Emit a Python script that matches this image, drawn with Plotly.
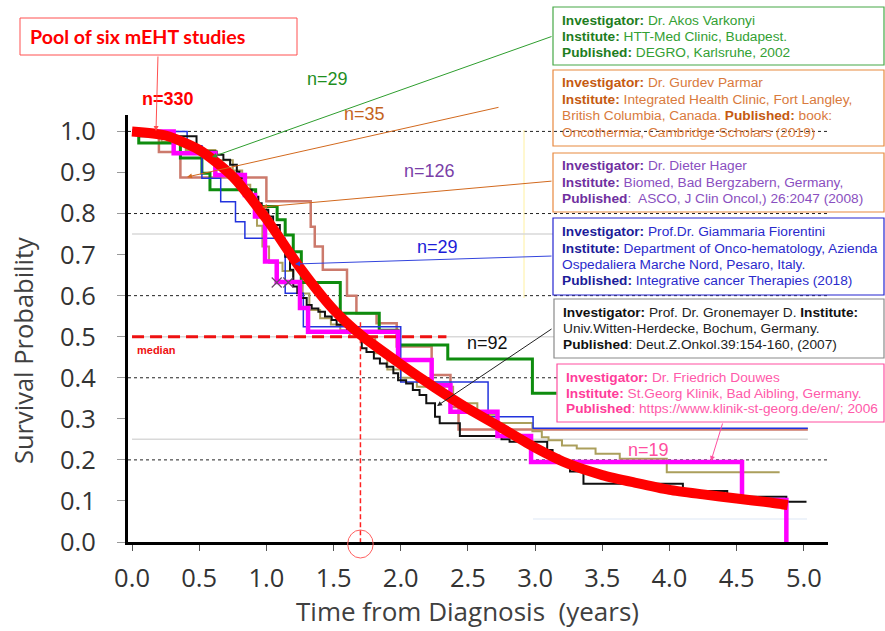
import plotly.graph_objects as go

# ---------------- data ----------------
POOL_X = [0, 0.25, 0.5, 0.75, 1.0, 1.25, 1.5, 1.7, 2.0, 2.25, 2.5, 2.75, 3.0, 3.25, 3.5, 3.75, 4.0, 4.25, 4.5, 4.75, 4.88]
POOL_Y = [1.0, 0.99, 0.955, 0.89, 0.787, 0.668, 0.566, 0.505, 0.433, 0.377, 0.325, 0.278, 0.23, 0.19, 0.163, 0.144, 0.127, 0.116, 0.106, 0.096, 0.09]

VARKONYI_X = [0, 0.05, 0.36, 0.52, 0.58, 0.92, 1.08, 1.14, 1.20, 1.26, 1.55, 1.84, 1.98, 2.35, 2.98, 3.16]
VARKONYI_Y = [1.0, 0.972, 0.935, 0.898, 0.858, 0.817, 0.785, 0.748, 0.707, 0.632, 0.557, 0.516, 0.48, 0.446, 0.362, 0.362]

PARMAR_X = [0, 0.20, 0.36, 1.0, 1.33, 1.36, 1.42, 1.60, 1.67, 1.82, 1.97, 2.23, 2.37, 2.43, 5.03]
PARMAR_Y = [1.0, 0.95, 0.888, 0.83, 0.768, 0.72, 0.663, 0.60, 0.557, 0.533, 0.476, 0.407, 0.329, 0.274, 0.274]

HAGER_X = [0, 0.22, 0.40, 0.62, 0.75, 0.82, 0.88, 0.93, 0.97, 1.02, 1.12, 1.20, 1.27, 1.32, 1.40, 1.48, 1.55, 1.62, 1.81, 1.90, 2.0, 2.12,
           2.39, 2.57, 2.72, 2.98, 3.05, 3.10, 3.20, 3.31, 3.45, 3.63, 3.98, 4.82]
HAGER_Y = [1.0, 0.975, 0.955, 0.93, 0.905, 0.87, 0.83, 0.77, 0.72, 0.68, 0.66, 0.63, 0.605, 0.565, 0.545, 0.53, 0.516, 0.50, 0.46, 0.42, 0.40, 0.378,
           0.338, 0.31, 0.29, 0.27, 0.255, 0.248, 0.235, 0.228, 0.215, 0.203, 0.17, 0.17]

FIORENTINI_X = [0, 0.41, 0.52, 0.66, 0.77, 0.84, 1.14, 1.275, 2.0, 2.65, 2.985, 5.03]
FIORENTINI_Y = [1.0, 0.965, 0.886, 0.829, 0.780, 0.740, 0.606, 0.524, 0.39, 0.305, 0.277, 0.277]

GRONEMAYER_X = [0, 0.06, 0.48, 0.63, 0.68, 0.73, 0.78, 0.80, 0.84, 0.89, 0.94, 0.965, 1.014, 1.05, 1.10, 1.14, 1.176, 1.20, 1.23,
                1.26, 1.30, 1.337, 1.387, 1.436, 1.486, 1.523, 1.60, 1.67, 1.71, 1.745, 1.80, 1.845, 1.895, 1.945, 1.98, 2.04,
                2.09, 2.14, 2.19, 2.255, 2.29, 2.44, 2.75, 2.81, 3.09, 3.13, 3.18, 3.26, 3.36, 4.10, 4.43, 4.87, 5.02]
GRONEMAYER_Y = [1.0, 0.988, 0.951, 0.943, 0.931, 0.919, 0.902, 0.886, 0.858, 0.841, 0.825, 0.809, 0.793, 0.772, 0.728, 0.695, 0.663, 0.622, 0.606,
                0.594, 0.577, 0.569, 0.561, 0.549, 0.541, 0.529, 0.516, 0.504, 0.472, 0.463, 0.447, 0.435, 0.427, 0.411, 0.394, 0.386,
                0.370, 0.358, 0.338, 0.305, 0.289, 0.258, 0.25, 0.244, 0.224, 0.21, 0.19, 0.172, 0.142, 0.124, 0.11, 0.098, 0.098]

DOUWES_X = [0, 0.31, 0.62, 0.84, 0.915, 0.99, 1.077, 1.25, 1.31, 1.98, 2.23, 2.37, 2.72, 2.97, 4.54, 4.87]
DOUWES_Y = [1.0, 0.947, 0.894, 0.845, 0.793, 0.683, 0.633, 0.57, 0.512, 0.443, 0.382, 0.317, 0.258, 0.195, 0.102, 0.0]

CENSOR_X = [1.077, 1.163]
CENSOR_Y = [0.632, 0.632]

MEDIAN_SURV = 0.5
MEDIAN_TIME = 1.70
MEDIAN_LINE_END = 2.34
MEDIAN_DROP_TOP = 0.535

GRID_Y = [0.2, 0.4, 0.6, 0.8, 1.0]
FAINT_Y = [0.25, 0.5, 0.75]
FAINT_END = 5.03

X_TICKS = [0.0, 0.5, 1.0, 1.5, 2.0, 2.5, 3.0, 3.5, 4.0, 4.5, 5.0]
X_TICK_TEXT = ["0.0", "0.5", "1.0", "1.5", "2.0", "2.5", "3.0", "3.5", "4.0", "4.5", "5.0"]
Y_TICKS = [0.0, 0.1, 0.2, 0.3, 0.4, 0.5, 0.6, 0.7, 0.8, 0.9, 1.0]
Y_TICK_TEXT = ["0.0", "0.1", "0.2", "0.3", "0.4", "0.5", "0.6", "0.7", "0.8", "0.9", "1.0"]

N_LABELS = ["n=330", "n=29", "n=35", "n=126", "n=29", "n=92", "n=19"]

# ---------------- layout helpers ----------------
W, H = 885, 631
PL, PR, PT, PB = 128, 828, 115, 542


def pxx(px):
    return (px - PL) / (PR - PL)


def pyy(py):
    return (PB - py) / (PB - PT)


SANS = "Liberation Sans, Arial, sans-serif"
TICKFONT = "Open Sans, Noto Sans, sans-serif"

fig = go.Figure()

series = [
    (PARMAR_X, PARMAR_Y, "#cc7a6c", 2.5),
    (HAGER_X, HAGER_Y, "#ab9f5c", 2),
    (VARKONYI_X, VARKONYI_Y, "#0e8c0e", 3),
    (FIORENTINI_X, FIORENTINI_Y, "#2233dd", 1.5),
    (GRONEMAYER_X, GRONEMAYER_Y, "#111111", 2),
    (DOUWES_X, DOUWES_Y, "#ff00ff", 4.5),
]
for xs, ys, col, w in series:
    fig.add_trace(go.Scatter(x=xs, y=ys, mode="lines", line=dict(shape="hv", color=col, width=w),
                             hoverinfo="skip", showlegend=False))

fig.add_trace(go.Scatter(x=CENSOR_X, y=CENSOR_Y, mode="markers",
                         marker=dict(symbol="x-thin", size=10, line=dict(width=1.2, color="#6a4a6a")),
                         hoverinfo="skip", showlegend=False))

# median lines
fig.add_trace(go.Scatter(x=[0, MEDIAN_LINE_END], y=[MEDIAN_SURV, MEDIAN_SURV], mode="lines",
                         line=dict(color="#ee1111", width=3, dash="12px,6px"), hoverinfo="skip", showlegend=False))
fig.add_trace(go.Scatter(x=[MEDIAN_TIME, MEDIAN_TIME], y=[MEDIAN_DROP_TOP, 0], mode="lines",
                         line=dict(color="#ff2020", width=1.5, dash="5px,3px"), hoverinfo="skip", showlegend=False))

# pooled curve
fig.add_trace(go.Scatter(x=POOL_X, y=POOL_Y, mode="lines", line=dict(shape="spline", smoothing=0.7, color="#ff0000", width=10),
                         hoverinfo="skip", showlegend=False))

shapes = []
# Parmar box sits below the grid line (grid line crosses it in the reference)
shapes.append(dict(type="rect", xref="paper", yref="paper", x0=pxx(553), x1=pxx(884), y0=pyy(146), y1=pyy(70),
                   line=dict(color="#e8893f", width=1.2), fillcolor="white", layer="below"))
for gy in FAINT_Y:
    shapes.append(dict(type="line", xref="x", yref="y", x0=0, x1=FAINT_END, y0=gy, y1=gy,
                       line=dict(color="#d9d9d9", width=1.5), layer="below"))
for gy in GRID_Y:
    shapes.append(dict(type="line", xref="paper", yref="y", x0=0, x1=1, y0=gy, y1=gy,
                       line=dict(color="#222222", width=1, dash="3px,3px"), layer="below"))
shapes.append(dict(type="line", xref="paper", yref="paper", x0=pxx(524), x1=pxx(524), y0=pyy(130), y1=pyy(298),
                   line=dict(color="#fff0a0", width=1), layer="below"))
shapes.append(dict(type="line", xref="paper", yref="paper", x0=pxx(533), x1=pxx(807), y0=pyy(519), y1=pyy(519),
                   line=dict(color="#e9eff9", width=1.5), layer="below"))

# info boxes (above the curves)
boxes = [
    (553, 7, 884, 65, "#47a847"),
    (553, 153, 884, 212, "#e8893f"),
    (553, 218, 884, 295, "#2525d0"),
    (554, 299, 884, 358, "#8a8a8a"),
    (557, 364, 884, 422, "#ff4fa0"),
]
for x0, y0, x1, y1, c in boxes:
    shapes.append(dict(type="rect", xref="paper", yref="paper", x0=pxx(x0), x1=pxx(x1), y0=pyy(y1), y1=pyy(y0),
                       line=dict(color=c, width=1.2), fillcolor="white", layer="above"))
# title box
shapes.append(dict(type="rect", xref="paper", yref="paper", x0=pxx(20), x1=pxx(297), y0=pyy(55), y1=pyy(18),
                   line=dict(color="#ff5050", width=1), fillcolor="white", layer="above"))
# circle at median time
shapes.append(dict(type="circle", xref="x", yref="paper", x0=MEDIAN_TIME - 0.095, x1=MEDIAN_TIME + 0.095,
                   y0=pyy(558), y1=pyy(530), line=dict(color="#ff6060", width=1), layer="above"))

annotations = []


def lab(text, c):
    return "<span style='color:%s'><b>%s</b></span>" % (c, text)


FS = 13.7
box_text = [
    (562, [25, 41, 57], "#33a033", "#1e7d1e", [
        lab("Investigator:", "#1e7d1e") + " Dr. Akos Varkonyi",
        lab("Institute:", "#1e7d1e") + " HTT-Med Clinic, Budapest.",
        lab("Published:", "#1e7d1e") + " DEGRO, Karlsruhe, 2002"]),
    (562, [87, 104, 120, 137], "#d97a3c", "#c55a11", [
        lab("Investigator:", "#c55a11") + " Dr. Gurdev Parmar",
        lab("Institute:", "#c55a11") + " Integrated Health Clinic, Fort Langley,",
        "British Columbia, Canada. " + lab("Published:", "#c55a11") + " book:",
        "Oncothermia, Cambridge Scholars (2019)"]),
    (562, [170, 187, 203], "#8a4fc0", "#7030a0", [
        lab("Investigator:", "#7030a0") + " Dr. Dieter Hager",
        lab("Institute:", "#7030a0") + " Biomed, Bad Bergzabern, Germany,",
        lab("Published", "#7030a0") + ":\u00a0 ASCO, J Clin Oncol,) 26:2047 (2008)"]),
    (562, [236, 253, 269, 285], "#2a2acc", "#1c1c99", [
        lab("Investigator:", "#1c1c99") + " Prof.Dr. Giammaria Fiorentini",
        lab("Institute:", "#1c1c99") + " Department of Onco-hematology, Azienda",
        "Ospedaliera Marche Nord, Pesaro, Italy.",
        lab("Published:", "#1c1c99") + " Integrative cancer Therapies (2018)"]),
    (563, [317, 333, 349], "#222222", "#111111", [
        lab("Investigator:", "#111111") + " Prof. Dr. Gronemayer D. " + lab("Institute:", "#111111"),
        "Univ.Witten-Herdecke, Bochum, Germany.",
        lab("Published", "#111111") + ": Deut.Z.Onkol.39:154-160, (2007)"]),
    (566, [382, 398, 413], "#ff5aaa", "#ff3d9a", [
        lab("Investigator:", "#ff3d9a") + " Dr. Friedrich Douwes",
        lab("Institute:", "#ff3d9a") + " St.Georg Klinik, Bad Aibling, Germany.",
        lab("Published", "#ff3d9a") + ": https://www.klinik-st-georg.de/en/; 2006"]),
]
for x0, bls, vc, lc, lines in box_text:
    for t, b in zip(lines, bls):
        annotations.append(dict(xref="paper", yref="paper", x=pxx(x0 - 1), y=pyy(b - 0.35 * FS), xanchor="left",
                                yanchor="middle", text=t, showarrow=False, align="left", borderpad=0,
                                font=dict(family=SANS, size=FS, color=vc)))

# title box text
annotations.append(dict(xref="paper", yref="paper", x=pxx(28), y=pyy(36), xanchor="left", yanchor="middle",
                        text="<b>Pool of six mEHT studies</b>", showarrow=False,
                        font=dict(family="Lato, Open Sans, sans-serif", size=19.6, color="#ff0000")))

# n= labels
n_specs = [
    (168, 99, "#ff0000", True),
    (327, 79, "#1f8f1f", False),
    (364, 114, "#c5641d", False),
    (429, 171, "#7a3fa8", False),
    (437, 247, "#1c1cd8", False),
    (488, 343, "#111111", False),
    (648, 450, "#ff4fa0", False),
]
for txt, (cx, cy, c, bold) in zip(N_LABELS, n_specs):
    annotations.append(dict(xref="paper", yref="paper", x=pxx(cx), y=pyy(cy), xanchor="center", yanchor="middle",
                            text=("<b>%s</b>" % txt) if bold else txt, showarrow=False,
                            font=dict(family=SANS, size=18, color=c)))
annotations.append(dict(xref="paper", yref="paper", x=pxx(135), y=pyy(350), xanchor="left", yanchor="middle",
                        text="<b>median</b>", showarrow=False, font=dict(family=SANS, size=11, color="#ee1111")))

# pointer lines (head px, tail px)
pointers = [
    ((156, 131), (158, 55), "#ff5050"),
    ((212, 157), (553, 36), "#2e9e2e"),
    ((187, 177), (500, 107), "#d2691e"),
    ((262, 207), (553, 181), "#d2691e"),
    ((295, 264), (553, 256), "#3344dd"),
    ((437, 406), (553, 328), "#222222"),
    ((711, 461), (723, 422), "#ff4fa0"),
]
for (hx, hy), (tx, ty), c in pointers:
    annotations.append(dict(xref="paper", yref="paper", x=pxx(hx), y=pyy(hy), ax=tx - hx, ay=ty - hy,
                            axref="pixel", ayref="pixel", text="", showarrow=True, arrowhead=2, arrowsize=1,
                            arrowwidth=1, arrowcolor=c, standoff=0, startstandoff=0))

# axis titles
annotations.append(dict(xref="paper", yref="paper", x=pxx(23), y=pyy(351), xanchor="center", yanchor="middle",
                        text="Survival Probability", textangle=-90, showarrow=False,
                        font=dict(family=TICKFONT, size=25.5, color="#404040")))
annotations.append(dict(xref="paper", yref="paper", x=pxx(467), y=pyy(611), xanchor="center", yanchor="middle",
                        text="Time from Diagnosis \u00a0(years)", showarrow=False,
                        font=dict(family=TICKFONT, size=26, color="#404040")))

fig.update_layout(
    width=W, height=H, autosize=False,
    margin=dict(l=PL, r=W - PR, t=PT, b=H - PB),
    paper_bgcolor="white", plot_bgcolor="rgba(0,0,0,0)",
    shapes=shapes, annotations=annotations, showlegend=False,
    xaxis=dict(range=[-0.03, 5.18], tickvals=X_TICKS, ticktext=X_TICK_TEXT, showgrid=False, zeroline=False,
               showline=True, linecolor="black", linewidth=3, ticks="outside", ticklen=6, tickwidth=1,
               tickcolor="#555555", ticklabelstandoff=5,
               tickfont=dict(family=TICKFONT, size=25.5, color="#333333")),
    yaxis=dict(range=[0, 1.04], tickvals=Y_TICKS, ticktext=Y_TICK_TEXT, showgrid=False, zeroline=False,
               showline=True, linecolor="black", linewidth=3, ticks="outside", ticklen=8, tickwidth=1,
               tickcolor="#999999", ticklabelstandoff=16,
               tickfont=dict(family=TICKFONT, size=25.5, color="#333333")),
)

fig.write_html("out.html")
